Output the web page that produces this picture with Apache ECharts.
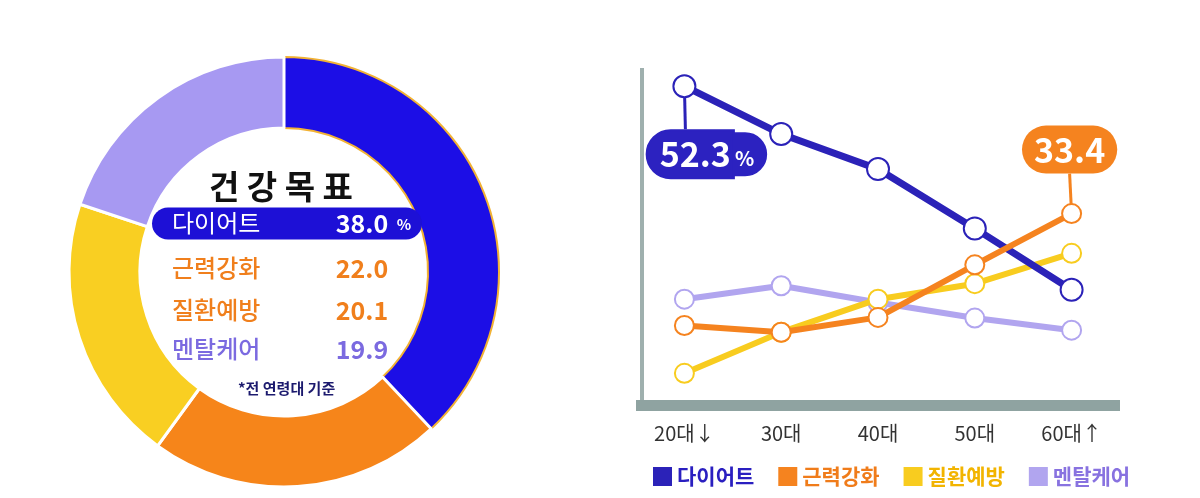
<!DOCTYPE html>
<html>
<head>
<meta charset="utf-8">
<script src="https://cdn.jsdelivr.net/npm/echarts@6/dist/echarts.min.js"></script>
<style>
html,body{margin:0;padding:0;background:#fff;}
#c{width:1200px;height:498px;}
</style>
</head>
<body>
<div id="c"></div>
<script>
// ---- data ----
const goals = ['다이어트', '근력강화', '질환예방', '멘탈케어'];
const goalShares = [38.0, 22.0, 20.1, 19.9];
const goalShareLabels = ['38.0', '22.0', '20.1', '19.9'];
const ages = ['20대↓', '30대', '40대', '50대', '60대↑'];
const dietByAge = [52.3, 45.2, 40.0, 31.2, 22.1];
const strengthByAge = [16.8, 15.8, 18.0, 25.8, 33.4];
const diseaseByAge = [9.7, 15.8, 20.7, 23.0, 27.5];
const mentalByAge = [20.7, 22.7, 20.2, 17.9, 16.1];
const centerTitle = '건 강 목 표';
const footnote = '*전 연령대 기준';

// ---- styles ----
const FONT = '"Noto Sans CJK KR", "Noto Sans", sans-serif';
const donutColors = ['#1c0ee6', '#f6851a', '#f9cf22', '#a799f2'];
const lineColors = ['#2b22b8', '#f5831f', '#f8cc1f', '#b1a5ef'];
const textColors = ['#ffffff', '#f07f1c', '#f07f1c', '#7b6ae0'];
const legendTextColors = ['#2a1fc0', '#f07c1a', '#f2b400', '#8872e0'];

const chart = echarts.init(document.getElementById('c'));

function rowTitle(i, top) {
  const isFirst = i === 0;
  return {
    left: isFirst ? 152 : 172,
    top: top,
    padding: isFirst ? [3, 10, 4, 20] : 0,
    backgroundColor: isFirst ? '#1d10d6' : 'transparent',
    borderRadius: isFirst ? 19 : 0,
    text: '{n|' + goals[i] + '}{v|' + goalShareLabels[i] + '}{p|' + (isFirst ? '%' : '') + '}',
    textStyle: {
      rich: {
        n: { fontFamily: FONT, fontSize: 24, fontWeight: isFirst ? 'normal' : 500, color: textColors[i], width: 160, align: 'left', lineHeight: 30 },
        v: { fontFamily: FONT, fontSize: 25, fontWeight: 'bold', color: textColors[i], width: 60, align: 'right', lineHeight: 30 },
        p: { fontFamily: FONT, fontSize: 15, fontWeight: 'bold', color: textColors[i], width: 16, align: 'left', lineHeight: 30, padding: [2, 0, 0, 4] }
      }
    }
  };
}

const rowTops = [205, 253, 295, 334];

const titles = [
  {
    left: 204, top: 161,
    text: centerTitle,
    textStyle: { fontFamily: FONT, fontSize: 33, fontWeight: 'bold', color: '#111', lineHeight: 40 }
  }
].concat(goals.map((g, i) => rowTitle(i, rowTops[i]))).concat([
  {
    left: 233, top: 373,
    text: footnote,
    textStyle: { fontFamily: FONT, fontSize: 15, fontWeight: 'bold', color: '#1c1a6e', lineHeight: 20 }
  }
]);

function lineSeries(name, values, idx, z, labelIndex, labelCfg, layout) {
  return {
    type: 'line',
    name: name,
    z: z,
    data: values.map((v, i) => {
      if (i === labelIndex) {
        return { value: v, label: labelCfg };
      }
      return v;
    }),
    symbol: 'emptyCircle',
    symbolSize: idx === 0 ? 22 : 19,
    showAllSymbol: true,
    lineStyle: { width: idx === 0 ? 7 : 6, color: lineColors[idx] },
    itemStyle: { color: lineColors[idx], borderWidth: 4 },
    label: { show: false },
    labelLine: { show: true, lineStyle: { color: lineColors[idx], width: 3 } },
    labelLayout: layout,
    emphasis: { disabled: true },
    animation: false
  };
}

const DIET_BG = '#2c22c0';
const dietLabel = {
  show: true,
  position: 'inside',
  formatter: (p) => '{sp| }{big|' + p.value + '}{pct|%}',
  rich: {
    sp: { width: 44, lineHeight: 38, padding: [6, 0, 6, 0] },
    big: { fontFamily: FONT, fontSize: 34, fontWeight: 'bold', color: '#fff', lineHeight: 38,
           backgroundColor: DIET_BG, borderColor: DIET_BG, borderWidth: 2,
           borderRadius: [25, 0, 0, 25], padding: [6, 2, 6, 12] },
    pct: { fontFamily: FONT, fontSize: 20, fontWeight: 'bold', color: '#fff', lineHeight: 30,
           backgroundColor: DIET_BG, borderColor: DIET_BG, borderWidth: 2,
           borderRadius: [0, 25, 25, 0], padding: [14, 11, 6, 2] }
  }
};
const strengthLabel = {
  show: true,
  position: 'inside',
  formatter: (p) => '{big|' + p.value + '}',
  backgroundColor: '#f5831f',
  borderRadius: 24,
  padding: [5, 12, 5, 12],
  rich: {
    big: { fontFamily: FONT, fontSize: 34, fontWeight: 'bold', color: '#fff', lineHeight: 38 }
  }
};

const option = {
  backgroundColor: '#ffffff',
  animation: false,
  title: titles,
  legend: {
    left: 648, top: 461,
    icon: 'rect',
    itemWidth: 19, itemHeight: 19,
    itemGap: 24,
    selectedMode: false,
    textStyle: { fontFamily: FONT, fontSize: 21, fontWeight: 'bold' },
    data: goals.map((g, i) => ({ name: g, textStyle: { color: legendTextColors[i] } }))
  },
  grid: { left: 636, right: 80, top: 68, bottom: 93, containLabel: false },
  xAxis: {
    type: 'category',
    data: ages,
    boundaryGap: true,
    axisLine: { show: true, lineStyle: { color: '#8fa3a1', width: 11, cap: 'butt' } },
    axisTick: { show: false },
    axisLabel: { fontFamily: FONT, fontSize: 20, color: '#333', margin: 18 }
  },
  yAxis: {
    type: 'value',
    min: 5, max: 55,
    offset: -6,
    axisLine: { show: true, lineStyle: { color: '#9fb0ae', width: 4, cap: 'butt' } },
    axisTick: { show: false },
    axisLabel: { show: false },
    splitLine: { show: false }
  },
  series: [
    {
      type: 'pie',
      center: [284, 272],
      radius: [144, 215],
      startAngle: 90,
      clockwise: true,
      label: { show: false },
      labelLine: { show: false },
      emphasis: { disabled: true },
      animation: false,
      data: goals.map((g, i) => ({
        name: g,
        value: goalShares[i],
        itemStyle: {
          color: donutColors[i],
          borderColor: i === 0 ? '#f2b234' : '#ffffff',
          borderWidth: i === 0 ? 2 : 3
        }
      }))
    },
    lineSeries(goals[3], mentalByAge, 3, 2, -1, null, null),
    lineSeries(goals[2], diseaseByAge, 2, 3, -1, null, null),
    lineSeries(goals[0], dietByAge, 0, 4, 0, dietLabel, () => ({ dx: 0, dy: 68 })),
    lineSeries(goals[1], strengthByAge, 1, 5, 4, strengthLabel, () => ({ dx: -2, dy: -64 }))
  ]
};

chart.setOption(option);
</script>
</body>
</html>
